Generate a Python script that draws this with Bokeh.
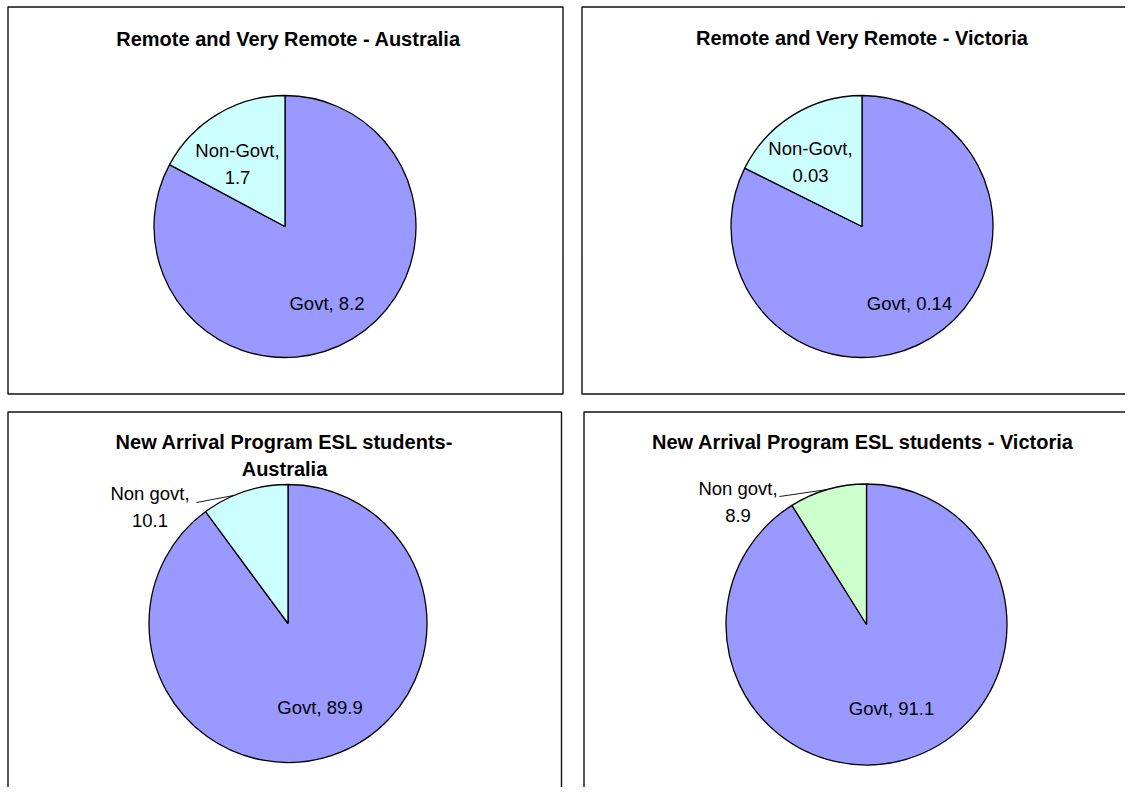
import math
from bokeh.plotting import figure
from bokeh.models import ColumnDataSource, Range1d
from bokeh.core.properties import value
from bokeh.embed import file_html
from bokeh.resources import INLINE

# ---------------- data ----------------
titles = [
    ["Remote and Very Remote - Australia"],
    ["Remote and Very Remote - Victoria"],
    ["New Arrival Program ESL students-", "Australia"],
    ["New Arrival Program ESL students - Victoria"],
]
govt_names = ["Govt", "Govt", "Govt", "Govt"]
nongovt_names = ["Non-Govt", "Non-Govt", "Non govt", "Non govt"]
govt_values = [8.2, 0.14, 89.9, 91.1]
nongovt_values = [1.7, 0.03, 10.1, 8.9]

# ---------------- styles / layout (reference pixels) ----------------
govt_color = "#9999FF"
nongovt_colors = ["#CCFFFF", "#CCFFFF", "#CCFFFF", "#CCFFCC"]

W, H = 1125, 787


def Y(py):
    return H - py


frames = [  # left, top, right, bottom
    (7.5, 6.5, 562.5, 393.5),
    (581.5, 6.5, 1145, 393.5),
    (7.5, 411.5, 561.0, 805),
    (583.5, 411.5, 1145, 805),
]
pies = [  # cx, cy, r
    (284.5, 226.0, 131.0),
    (861.5, 226.0, 131.0),
    (287.5, 623.0, 139.0),
    (866.0, 624.0, 140.5),
]
title_pos = [  # center x, first baseline
    (288.0, 38.0),
    (861.5, 37.5),
    (284.0, 441.5),
    (862.5, 441.5),
]
title_line_gap = 26.5
nongovt_label_pos = [(237.0, 150.0), (810.0, 148.0), (149.5, 493.0), (737.5, 488.0)]
label_line_gap = 27.0
govt_label_pos = [(326.5, 303.0), (909.0, 303.0), (319.5, 707.0), (891.0, 708.0)]
leaders = {2: ((196.0, 502.0), (233.0, 495.0)), 3: ((779.0, 496.0), (827.0, 489.0))}

FONT = value("Liberation Sans")

p = figure(width=W, height=H, x_range=Range1d(0, W), y_range=Range1d(0, H),
           output_backend="svg", toolbar_location=None, min_border=0,
           x_axis_type=None, y_axis_type=None)
p.grid.visible = False
p.outline_line_color = None
p.background_fill_color = "white"

# frames
p.quad(left=[f[0] for f in frames], right=[f[2] for f in frames],
       top=[Y(f[1]) for f in frames], bottom=[Y(f[3]) for f in frames],
       fill_color=None, line_color="#111111", line_width=1.4)

# wedges
xs, ys, rs, sa, ea, cols = [], [], [], [], [], []
for i in range(4):
    cx, cy, r = pies[i]
    total = govt_values[i] + nongovt_values[i]
    fg = govt_values[i] / total
    fn = nongovt_values[i] / total
    top = math.pi / 2
    # Govt: clockwise from 12 o'clock
    xs.append(cx); ys.append(Y(cy)); rs.append(r)
    sa.append(top - 2 * math.pi * fg); ea.append(top); cols.append(govt_color)
    # Non-govt: remainder back to 12 o'clock
    xs.append(cx); ys.append(Y(cy)); rs.append(r)
    sa.append(top); ea.append(top + 2 * math.pi * fn); cols.append(nongovt_colors[i])

wsrc = ColumnDataSource(dict(x=xs, y=ys, radius=rs, start=sa, end=ea, color=cols))
p.wedge(x="x", y="y", radius="radius", start_angle="start", end_angle="end",
        direction="anticlock", fill_color="color", line_color="black",
        line_width=1.3, source=wsrc)

# leader lines
for i, ((x0, y0), (x1, y1)) in leaders.items():
    p.line([x0, x1], [Y(y0), Y(y1)], line_color="black", line_width=0.9)

# titles
tx, ty, tt = [], [], []
for i in range(4):
    cx, by = title_pos[i]
    for k, line in enumerate(titles[i]):
        tx.append(cx); ty.append(Y(by + k * title_line_gap)); tt.append(line)
p.text(x=tx, y=ty, text=tt, text_align="center", text_baseline="alphabetic",
       text_font=FONT, text_font_style="bold", text_font_size="20px",
       text_color="black")

# data labels
lx, ly, lt = [], [], []
for i in range(4):
    cx, by = nongovt_label_pos[i]
    lines = [nongovt_names[i] + ",", str(nongovt_values[i])]
    for k, line in enumerate(lines):
        lx.append(cx); ly.append(Y(by + k * label_line_gap)); lt.append(line)
    gx, gy = govt_label_pos[i]
    lx.append(gx); ly.append(Y(gy)); lt.append(f"{govt_names[i]}, {govt_values[i]}")
p.text(x=lx, y=ly, text=lt, text_align="center", text_baseline="alphabetic",
       text_font=FONT, text_font_size="18.5px", text_color="black")

open("out.html", "w").write(file_html(p, INLINE))
